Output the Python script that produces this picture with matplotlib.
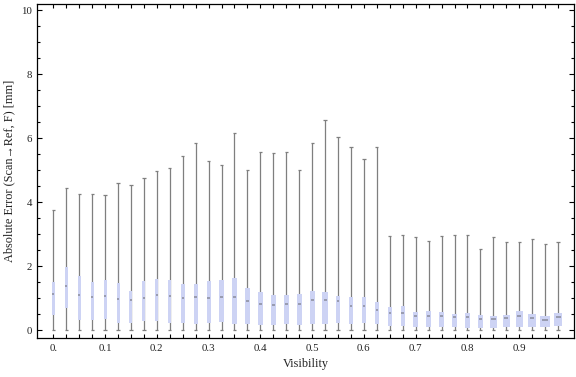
import matplotlib
matplotlib.use("Agg")
import matplotlib.pyplot as plt
from matplotlib.ticker import MultipleLocator, FixedLocator
from matplotlib.patches import Rectangle

# ---------------- data ----------------
visibility = [0.0, 0.025, 0.05, 0.075, 0.1, 0.125, 0.15, 0.175, 0.2, 0.225,
              0.25, 0.275, 0.3, 0.325, 0.35, 0.375, 0.4, 0.425, 0.45, 0.475,
              0.5, 0.525, 0.55, 0.575, 0.6, 0.625, 0.65, 0.675, 0.7, 0.725,
              0.75, 0.775, 0.8, 0.825, 0.85, 0.875, 0.9, 0.925, 0.95, 0.975]

whisker_hi = [3.75, 4.43, 4.24, 4.24, 4.21, 4.58, 4.52, 4.74, 4.97, 5.05,
              5.43, 5.86, 5.27, 5.15, 6.15, 5.00, 5.55, 5.52, 5.55, 5.00,
              5.86, 6.55, 6.02, 5.71, 5.33, 5.71, 2.94, 2.97, 2.91, 2.77,
              2.94, 2.97, 2.97, 2.52, 2.91, 2.74, 2.74, 2.84, 2.69, 2.74]

q3 = [1.50, 1.97, 1.69, 1.50, 1.55, 1.47, 1.22, 1.52, 1.58, 1.55,
      1.43, 1.44, 1.53, 1.56, 1.62, 1.31, 1.19, 1.09, 1.08, 1.12,
      1.22, 1.19, 1.06, 1.03, 1.03, 0.89, 0.72, 0.75, 0.56, 0.59,
      0.56, 0.50, 0.53, 0.47, 0.44, 0.47, 0.60, 0.50, 0.44, 0.53]

median = [1.12, 1.36, 1.10, 1.04, 1.07, 0.98, 0.93, 1.01, 1.10, 1.06,
          1.01, 1.02, 0.99, 1.04, 1.03, 0.90, 0.82, 0.79, 0.82, 0.81,
          0.94, 0.94, 0.92, 0.75, 0.74, 0.64, 0.54, 0.53, 0.45, 0.44,
          0.44, 0.41, 0.40, 0.35, 0.34, 0.37, 0.44, 0.37, 0.30, 0.42]

q1 = [0.48, 0.69, 0.32, 0.32, 0.33, 0.21, 0.23, 0.29, 0.29, 0.23,
      0.23, 0.20, 0.23, 0.26, 0.20, 0.20, 0.17, 0.17, 0.20, 0.17,
      0.20, 0.20, 0.23, 0.20, 0.23, 0.20, 0.14, 0.14, 0.10, 0.10,
      0.10, 0.10, 0.07, 0.07, 0.07, 0.08, 0.10, 0.10, 0.10, 0.14]

whisker_lo = [0.0, 0.0, 0.0, 0.0, 0.0, 0.0, 0.0, 0.0, 0.0, 0.0,
              0.0, 0.0, 0.0, 0.0, 0.0, 0.0, 0.0, 0.0, 0.0, 0.0,
              0.0, 0.0, 0.0, 0.0, 0.0, 0.0, 0.0, 0.0, 0.0, 0.0,
              0.0, 0.0, 0.0, 0.0, 0.0, 0.0, 0.0, 0.0, 0.0, 0.0]

# relative box weights (box widths vary in the reference)
weight = [3.0, 3.0, 3.0, 3.0, 3.0, 3.0, 3.0, 3.0, 3.0, 3.3,
          4.0, 4.0, 4.0, 4.3, 4.3, 4.3, 4.7, 5.0, 5.0, 5.0,
          5.0, 5.3, 4.3, 4.3, 4.3, 4.3, 4.0, 4.3, 4.7, 4.3,
          4.3, 5.0, 5.0, 5.3, 7.3, 7.0, 7.3, 7.7, 10.7, 8.3]

x_tick_vals = [0.0, 0.1, 0.2, 0.3, 0.4, 0.5, 0.6, 0.7, 0.8, 0.9]
x_tick_labels = ["0.", "0.1", "0.2", "0.3", "0.4", "0.5", "0.6", "0.7", "0.8", "0.9"]

# ---------------- figure ----------------
plt.rcParams['font.family'] = ['Liberation Serif', 'DejaVu Serif']
fig = plt.figure(figsize=(5.76, 3.77), dpi=100)
ax = fig.add_axes([37/576, 1 - 338/377, (574 - 37)/576, (338 - 4)/377])

xmin, xmax = -0.0315, 1.0058
ax.set_xlim(xmin, xmax)
ax.set_ylim(-0.25, 10.19)

px_per_unit = (574 - 37) / (xmax - xmin)
box_color = '#cdd3f4'
whisk_color = '#7f7f7f'
cap_half = 1.6 / px_per_unit

for i, x in enumerate(visibility):
    w = weight[i] / px_per_unit
    # whisker
    ax.vlines(x, whisker_lo[i], whisker_hi[i], color=whisk_color, lw=0.9, zorder=1)
    ax.hlines([whisker_lo[i], whisker_hi[i]], x - cap_half, x + cap_half,
              color=whisk_color, lw=0.9, zorder=1)
    # box
    ax.add_patch(Rectangle((x - w/2, q1[i]), w, q3[i] - q1[i],
                           facecolor=box_color, edgecolor='none', zorder=2))
    # median
    ax.hlines(median[i], x - w*0.3, x + w*0.3, color='#8a8c9c', lw=1.1, zorder=3)

# ticks
ax.xaxis.set_major_locator(FixedLocator(x_tick_vals))
ax.set_xticklabels(x_tick_labels)
ax.xaxis.set_minor_locator(FixedLocator(visibility))
ax.yaxis.set_major_locator(MultipleLocator(2))
ax.yaxis.set_minor_locator(MultipleLocator(0.5))

ax.tick_params(axis='both', which='both', direction='in', top=True, right=True,
               width=0.8, color='black', labelsize=7.8, labelcolor='#222222')
ax.tick_params(axis='x', which='major', length=3.2, pad=4)
ax.tick_params(axis='x', which='minor', length=3.0)
ax.tick_params(axis='y', which='major', length=3.8, pad=3.5)
ax.tick_params(axis='y', which='minor', length=2.4)

for s in ax.spines.values():
    s.set_linewidth(0.9)

ax.set_xlabel("Visibility", fontsize=8.8, labelpad=4, color='#222222')
ax.set_ylabel("Absolute Error (Scan\u2192Ref, F) [mm]", fontsize=8.8, labelpad=4,
              color='#222222')

fig.savefig("out.png", dpi=100)
